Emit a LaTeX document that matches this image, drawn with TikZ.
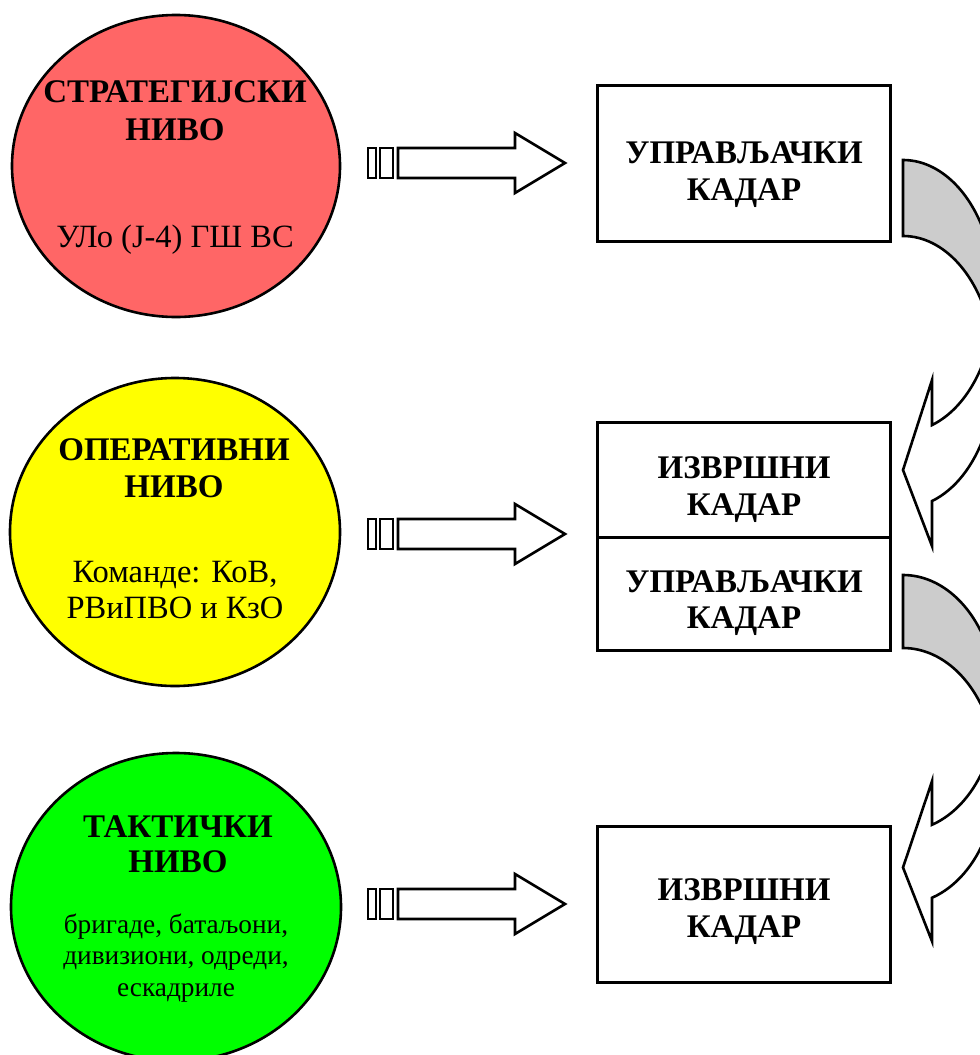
\documentclass[tikz,border=0pt]{standalone}
\usepackage{fontspec}
\setmainfont{Liberation Serif}
\usetikzlibrary{shapes.geometric}

\definecolor{stratred}{RGB}{255,102,102}
\definecolor{opyellow}{RGB}{255,255,0}
\definecolor{taktgreen}{RGB}{0,255,0}
\definecolor{bandgray}{RGB}{204,204,204}

\tikzset{
  levelcircle/.style={ellipse, draw=black, line width=2.6pt, inner sep=0pt},
  kadarbox/.style={rectangle, draw=black, line width=3pt, fill=white,
    minimum width=293pt, inner sep=0pt},
  headtext/.style={font=\fontsize{33}{38}\selectfont\bfseries, anchor=base, inner sep=0pt},
  bodytext/.style={font=\fontsize{32.5}{38}\selectfont, anchor=base, inner sep=0pt},
  smalltext/.style={font=\fontsize{27.3}{32}\selectfont, anchor=base, inner sep=0pt},
  blockarrow/.style={draw=black, line width=2.6pt, fill=white, line join=miter},
  backband/.style={draw=black, line width=2.6pt, fill=bandgray, line join=miter},
  frontband/.style={draw=black, line width=2.6pt, fill=white, line join=miter},
}

% striped block arrow pointing right, centred on height #1
\newcommand\StripedArrowAt[1]{%
  \path[blockarrow] (368,#1-15) rectangle (376,#1+15);
  \path[blockarrow] (380,#1-15) rectangle (393,#1+15);
  \path[blockarrow] (398,#1-15) -- (515,#1-15) -- (515,#1-30) -- (565,#1)
    -- (515,#1+30) -- (515,#1+15) -- (398,#1+15) -- cycle;
}

% curved arrow turning down and pointing left
% #1 left x, #2 top y, #3 horizontal radius, #4 vertical radius,
% #5 band thickness, #6 head length, #7 head width
\newcommand\CurvedLeftArrow[7]{%
  \pgfmathsetmacro\caCA{#2+#4}%
  \pgfmathsetmacro\caCB{#2+#4+#5}%
  \pgfmathsetmacro\caTi{asin(#5/(2*#4))}%
  \pgfmathsetmacro\caTe{acos(#6/#3)}%
  \pgfmathsetmacro\caXone{#1+#6}%
  \pgfmathsetmacro\caYfive{\caCA+#4*sin(\caTe)}%
  \pgfmathsetmacro\caYseven{\caCB+#4*sin(\caTe)}%
  \pgfmathsetmacro\caDh{(#7-#5)/2}%
  \pgfmathsetmacro\caYsix{#2+2*#4+#5/2}%
  \pgfmathsetmacro\caXi{#1+#3*cos(\caTi)}%
  \pgfmathsetmacro\caYi{\caCA+#4*sin(\caTi)}%
  \path[backband] (#1,#2)
    arc[start angle=-90, end angle=\caTi, x radius=#3, y radius=#4]
    arc[start angle=-\caTi, end angle=-90, x radius=#3, y radius=#4] -- cycle;
  \path[frontband] (\caXi,\caYi)
    arc[start angle=-\caTi, end angle=\caTe, x radius=#3, y radius=#4]
    -- (\caXone,\caYseven+\caDh) -- (#1,\caYsix) -- (\caXone,\caYfive-\caDh)
    -- (\caXone,\caYfive)
    arc[start angle=\caTe, end angle=\caTi, x radius=#3, y radius=#4] -- cycle;
}

\begin{document}
\begin{tikzpicture}[x=1pt, y=-1pt]
\useasboundingbox (0,0) rectangle (980,1055);
\clip (0,0) rectangle (980,1055);
\fill[white] (0,0) rectangle (980,1055);

% levels
\node[levelcircle, fill=stratred, minimum width=328pt, minimum height=302pt] (strat) at (176,166) {};
\node[levelcircle, fill=opyellow, minimum width=330pt, minimum height=308pt] (oper) at (175,532) {};
\node[levelcircle, fill=taktgreen, minimum width=330pt, minimum height=308pt] (takt) at (176,907) {};

\node[headtext] (s1) at (175,102) {СТРАТЕГИЈСКИ};
\node[headtext] (s2) at (175,140) {НИВО};
\node[bodytext] (s3) at (175,247) {УЛо (J-4) ГШ ВС};

\node[headtext] (o1) at (174,460) {ОПЕРАТИВНИ};
\node[headtext] (o2) at (174,497) {НИВО};
\node[bodytext] (o3) at (175,582) {Команде: КоВ,};
\node[bodytext] (o4) at (175,618) {РВиПВО и КзО};

\node[headtext] (t1) at (178,837) {ТАКТИЧКИ};
\node[headtext] (t2) at (178,872) {НИВО};
\node[smalltext] (t3) at (176,933) {бригаде, батаљони,};
\node[smalltext] (t4) at (176,964) {дивизиони, одреди,};
\node[smalltext] (t5) at (176,996) {ескадриле};

% staff boxes
\node[kadarbox, minimum height=156pt] (k1) at (743.5,163) {};
\node[kadarbox, minimum height=115pt] (k2) at (743.5,479.5) {};
\node[kadarbox, minimum height=113pt] (k3) at (743.5,593.5) {};
\node[kadarbox, minimum height=156pt] (k4) at (743.5,904) {};

\node[headtext] (k1a) at (744,163) {УПРАВЉАЧКИ};
\node[headtext] (k1b) at (744,200) {КАДАР};
\node[headtext] (k2a) at (744,478) {ИЗВРШНИ};
\node[headtext] (k2b) at (744,515) {КАДАР};
\node[headtext] (k3a) at (744,592) {УПРАВЉАЧКИ};
\node[headtext] (k3b) at (744,628) {КАДАР};
\node[headtext] (k4a) at (744,900) {ИЗВРШНИ};
\node[headtext] (k4b) at (744,937) {КАДАР};

% level-to-staff arrows
\StripedArrowAt{163}
\StripedArrowAt{534}
\StripedArrowAt{904}

% staff-to-staff curved arrows
\CurvedLeftArrow{903}{160}{92}{136}{76}{29}{166}
\CurvedLeftArrow{903}{575}{94}{128}{73}{29}{160}
\end{tikzpicture}
\end{document}
